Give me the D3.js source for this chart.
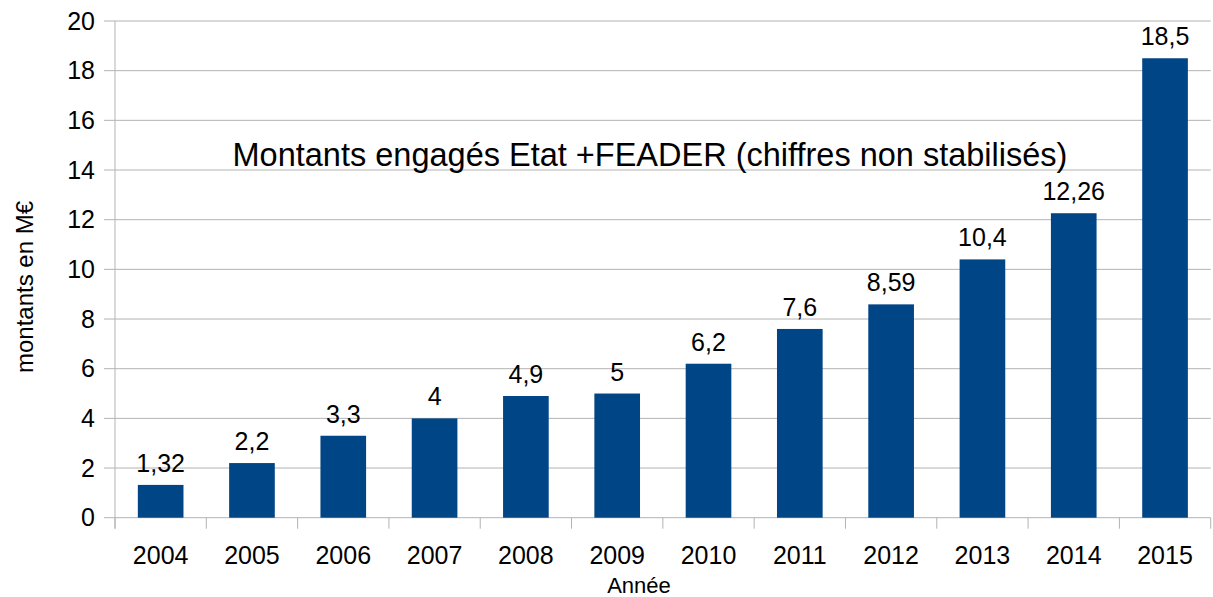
<!DOCTYPE html>
<html>
<head>
<meta charset="utf-8">
<script src="https://cdn.jsdelivr.net/npm/d3@7"></script>
<style>
  body { margin: 0; background: #fff; }
  svg text { font-family: "Liberation Sans", Arial, sans-serif; fill: #000; }
</style>
</head>
<body>
<div id="chart"></div>
<script>
// Data
const years = ['2004', '2005', '2006', '2007', '2008', '2009', '2010', '2011', '2012', '2013', '2014', '2015'];
const amounts = [1.32, 2.2, 3.3, 4, 4.9, 5, 6.2, 7.6, 8.59, 10.4, 12.26, 18.5];
const amountLabels = ['1,32', '2,2', '3,3', '4', '4,9', '5', '6,2', '7,6', '8,59', '10,4', '12,26', '18,5'];
const yTicks = [0, 2, 4, 6, 8, 10, 12, 14, 16, 18, 20];

const width = 1213, height = 597;
const margin = { top: 21, right: 2.3, bottom: 79.3, left: 115 };
const innerW = width - margin.left - margin.right;
const innerH = height - margin.top - margin.bottom;

const svg = d3.select('#chart').append('svg')
  .attr('width', width)
  .attr('height', height);

const g = svg.append('g')
  .attr('transform', `translate(${margin.left},${margin.top})`);

const x = d3.scaleBand()
  .domain(years)
  .range([0, innerW])
  .paddingInner(0.5)
  .paddingOuter(0.25);

const y = d3.scaleLinear()
  .domain([0, 20])
  .range([innerH, 0]);

// Grid lines
g.append('g')
  .selectAll('line')
  .data(yTicks)
  .enter()
  .append('line')
  .attr('x1', -11)
  .attr('x2', innerW)
  .attr('y1', d => y(d))
  .attr('y2', d => y(d))
  .attr('stroke', '#b3b3b3')
  .attr('stroke-width', 1);

// Y axis labels
const yAxis = g.append('g')
  .call(d3.axisLeft(y).tickValues(yTicks).tickSize(0).tickPadding(20));
yAxis.select('.domain').remove();
yAxis.selectAll('text')
  .attr('font-size', 25)
  .attr('font-family', '"Liberation Sans", Arial, sans-serif')
  .attr('fill', '#000');

// Left axis line
g.append('line')
  .attr('x1', 0).attr('x2', 0)
  .attr('y1', 0).attr('y2', innerH + 11)
  .attr('stroke', '#b3b3b3');

// Category tick marks (at band boundaries)
const step = x.step();
const boundaries = d3.range(years.length + 1).map(i => i * step);
g.append('g')
  .selectAll('line')
  .data(boundaries)
  .enter()
  .append('line')
  .attr('x1', d => d).attr('x2', d => d)
  .attr('y1', innerH)
  .attr('y2', innerH + 11)
  .attr('stroke', '#b3b3b3');

// Bars
g.selectAll('rect.bar')
  .data(amounts)
  .enter()
  .append('rect')
  .attr('class', 'bar')
  .attr('x', (d, i) => x(years[i]))
  .attr('y', d => y(d))
  .attr('width', x.bandwidth())
  .attr('height', d => innerH - y(d))
  .attr('fill', '#004586');

// Value labels
g.selectAll('text.val')
  .data(amounts)
  .enter()
  .append('text')
  .attr('class', 'val')
  .attr('x', (d, i) => x(years[i]) + x.bandwidth() / 2)
  .attr('y', d => y(d) - 13)
  .attr('text-anchor', 'middle')
  .attr('font-size', 25)
  .text((d, i) => amountLabels[i]);

// X axis labels
g.selectAll('text.year')
  .data(years)
  .enter()
  .append('text')
  .attr('class', 'year')
  .attr('x', d => x(d) + x.bandwidth() / 2)
  .attr('y', innerH + 46)
  .attr('text-anchor', 'middle')
  .attr('font-size', 25)
  .text(d => d);

// Title
svg.append('text')
  .attr('x', 650)
  .attr('y', 166)
  .attr('text-anchor', 'middle')
  .attr('font-size', 32.5)
  .text('Montants engagés Etat +FEADER (chiffres non stabilisés)');

// Axis titles
svg.append('text')
  .attr('x', 639)
  .attr('y', 593)
  .attr('text-anchor', 'middle')
  .attr('font-size', 22)
  .text('Année');

svg.append('text')
  .attr('transform', 'translate(33,287) rotate(-90)')
  .attr('text-anchor', 'middle')
  .attr('font-size', 24)
  .text('montants en M€');
</script>
</body>
</html>
